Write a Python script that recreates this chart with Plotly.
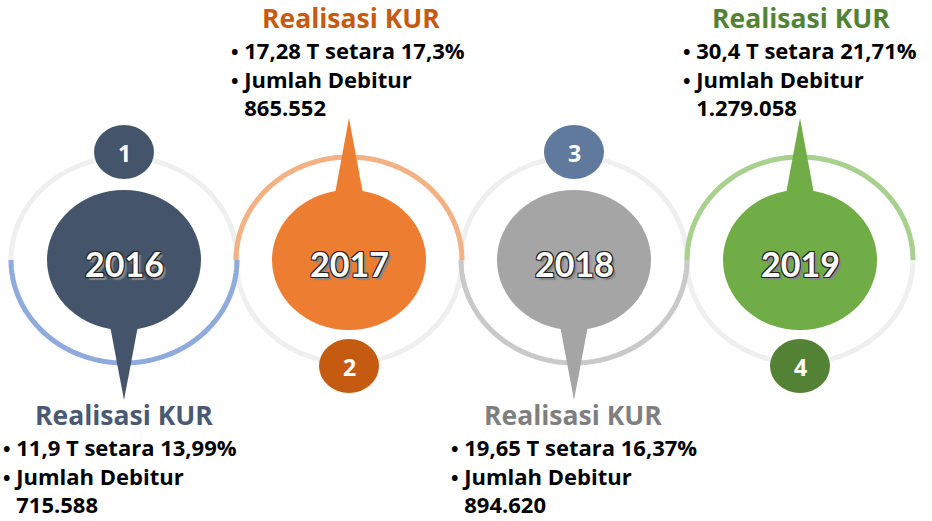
import numpy as np
import plotly.graph_objects as go

# ---- data ----
years = ["2016", "2017", "2018", "2019"]
step_numbers = ["1", "2", "3", "4"]
title_text = "Realisasi KUR"
realisasi = ["11,9 T setara 13,99%", "17,28 T setara 17,3%", "19,65 T setara 16,37%", "30,4 T setara 21,71%"]
debitur_label = "Jumlah Debitur"
debitur = ["715.588", "865.552", "894.620", "1.279.058"]

# ---- layout / style ----
W, H = 932, 521
cxs = [124, 349, 574, 800]
cy = 260
pointer_up = [False, True, False, True]
main_col = ["#44546A", "#ED7D31", "#A5A5A5", "#70AD47"]
arc_col = ["#8FAADC", "#F4B183", "#C9C9C9", "#A9D18E"]
num_col = ["#44546A", "#C55A11", "#5F7A9C", "#548235"]
title_col = ["#4A5A72", "#C55A11", "#7F7F7F", "#548235"]
block_x = [1, 229, 449, 681]
title_x = [124, 351, 573, 801]
ring_bg = "#EFEFEF"
RX, RY = 113, 103
FONT = "Lato"
TFONT = "Open Sans"

shapes = []
annotations = []


def half_arc(cx, top):
    t = np.linspace(0, np.pi, 80)
    xs = cx + RX * np.cos(t)
    ys = cy - RY * np.sin(t) if top else cy + RY * np.sin(t)
    return "M " + " L ".join(f"{x:.2f},{y:.2f}" for x, y in zip(xs, ys))


for i, cx in enumerate(cxs):
    shapes.append(dict(type="circle", xref="x", yref="y", x0=cx - RX, x1=cx + RX,
                       y0=cy - RY, y1=cy + RY, line=dict(color=ring_bg, width=5)))
for i, cx in enumerate(cxs):
    shapes.append(dict(type="path", xref="x", yref="y", path=half_arc(cx, pointer_up[i]),
                       line=dict(color=arc_col[i], width=5)))

BUL = '<span style="font-size:20px">•</span> '
BUL_HIDDEN = '<span style="font-size:20px;fill:rgba(0,0,0,0)">•</span> '

for i, cx in enumerate(cxs):
    up = pointer_up[i]
    # number bubble
    ncy = cy + 106 if up else cy - 108
    shapes.append(dict(type="circle", xref="x", yref="y", x0=cx - 30, x1=cx + 30,
                       y0=ncy - 27, y1=ncy + 27, fillcolor=num_col[i], line=dict(width=0)))
    annotations.append(dict(x=cx, y=ncy + 1, xref="x", yref="y", text=f"<b>{step_numbers[i]}</b>",
                            showarrow=False, font=dict(family=TFONT, size=23, color="white")))
    # pointer triangle
    tip = cy - 142 if up else cy + 140
    base = cy - 50 if up else cy + 50
    shapes.append(dict(type="path", xref="x", yref="y",
                       path=f"M {cx-17},{base} L {cx},{tip} L {cx+17},{base} Z",
                       fillcolor=main_col[i], line=dict(width=0)))
    # main ellipse
    shapes.append(dict(type="circle", xref="x", yref="y", x0=cx - 77, x1=cx + 77,
                       y0=cy - 70, y1=cy + 70, fillcolor=main_col[i], line=dict(width=0)))
    annotations.append(dict(x=cx, y=cy + 3, xref="x", yref="y", text=f"<b>{years[i]}</b>",
                            showarrow=False,
                            font=dict(family=FONT, size=34, color="white",
                                      shadow="-1px -1px 0 #222, 1px -1px 0 #222, -1px 1px 0 #222, 1px 1px 0 #222, 3px 3px 1px #888")))
    # text block
    if up:
        ty, mid = 18, 78
    else:
        ty, mid = 415, 475
    annotations.append(dict(x=title_x[i], y=ty, xref="x", yref="y", text=f"<b>{title_text}</b>",
                            showarrow=False, font=dict(family=TFONT, size=26.5, color=title_col[i])))
    block = (f"<b>{BUL}{realisasi[i]}<br>{BUL}{debitur_label}<br>"
             f"{BUL_HIDDEN}{debitur[i]}</b>")
    annotations.append(dict(x=block_x[i], y=mid, xref="x", yref="y", xanchor="left", yanchor="middle",
                            align="left", text=block, showarrow=False,
                            font=dict(family=TFONT, size=22, color="black")))

fig = go.Figure()
fig.update_layout(
    width=W, height=H, autosize=False,
    margin=dict(l=0, r=0, t=0, b=0),
    paper_bgcolor="white", plot_bgcolor="white",
    xaxis=dict(range=[0, W], visible=False, fixedrange=True),
    yaxis=dict(range=[H, 0], visible=False, fixedrange=True),
    shapes=shapes, annotations=annotations, showlegend=False,
)
fig.write_html("out.html", config={"displayModeBar": False},
               post_script="document.body.style.margin='0';")
